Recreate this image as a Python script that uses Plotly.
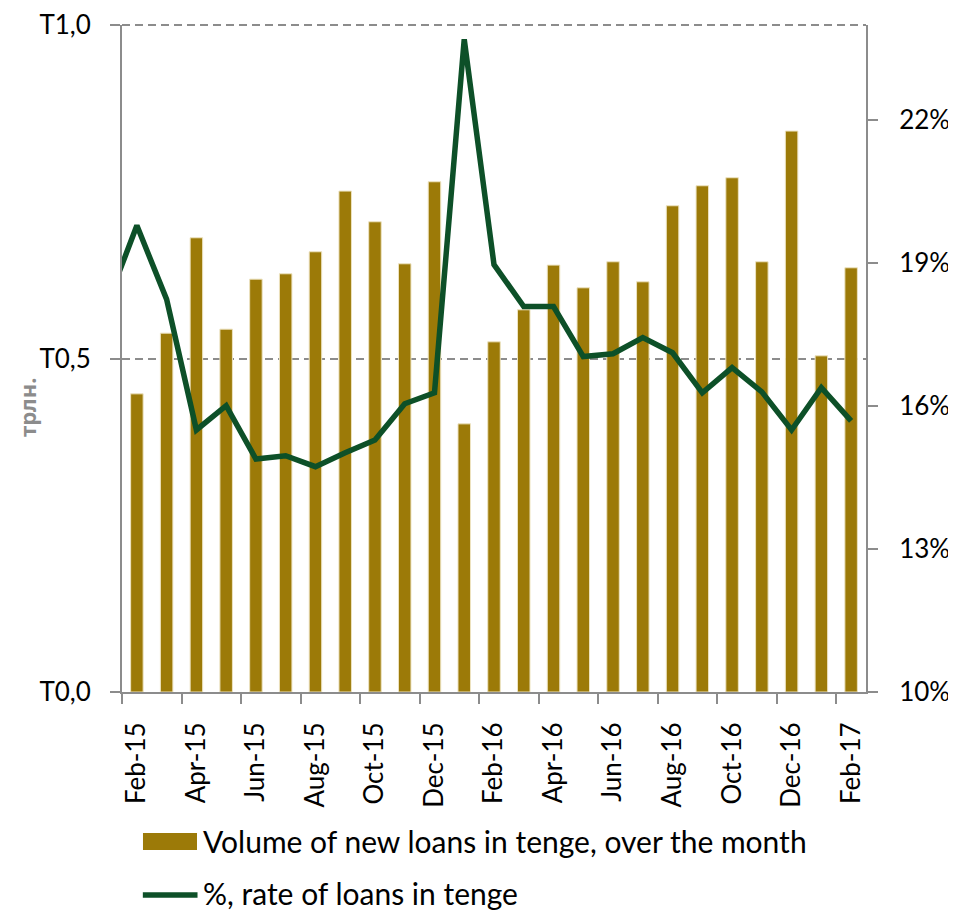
import plotly.graph_objects as go

months = ["Feb-15", "Mar-15", "Apr-15", "May-15", "Jun-15", "Jul-15", "Aug-15", "Sep-15",
          "Oct-15", "Nov-15", "Dec-15", "Jan-16", "Feb-16", "Mar-16", "Apr-16", "May-16",
          "Jun-16", "Jul-16", "Aug-16", "Sep-16", "Oct-16", "Nov-16", "Dec-16", "Jan-17", "Feb-17"]

volume = [0.447, 0.538, 0.681, 0.544, 0.619, 0.627, 0.660, 0.751, 0.705, 0.642, 0.765, 0.402,
          0.525, 0.573, 0.640, 0.606, 0.645, 0.615, 0.729, 0.759, 0.771, 0.645, 0.841, 0.504, 0.636]

# rate series starts one month earlier (Jan-15), which falls outside the plotted range
rate_months = ["Jan-15"] + months
rate = [18.15, 19.79, 18.24, 15.50, 16.01, 14.89, 14.96, 14.73, 15.02, 15.29, 16.05, 16.28, 23.70,
        18.97, 18.09, 18.09, 17.04, 17.10, 17.44, 17.12, 16.28, 16.81, 16.30, 15.50, 16.39, 15.69]

left_ticks = [0, 0.5, 1.0]
left_ticktext = ["T0,0", "T0,5", "T1,0"]
right_ticks = [10, 13, 16, 19, 22]

bar_name = "Volume of new loans in tenge, over the month"
line_name = "%, rate of loans in tenge"

x_bar = list(range(len(months)))
x_rate = [i - 1 for i in range(len(rate_months))]

FONT = "Lato"
BAR_COLOR = "#9C7A08"
LINE_COLOR = "#0D5028"
AXIS_COLOR = "#8C8C8C"
DASH = "8px,5px"

fig = go.Figure()
fig.add_trace(go.Bar(
    x=x_bar, y=volume, name=bar_name, showlegend=False,
    marker=dict(color=BAR_COLOR, line=dict(color="#EDE3C0", width=1)),
    width=0.42, yaxis="y"))
fig.add_trace(go.Scatter(
    x=x_rate, y=rate, name=line_name, mode="lines", showlegend=False,
    line=dict(color=LINE_COLOR, width=5.5), yaxis="y2"))

shapes = [
    # dashed gridline along the top of the plot (value 1.0)
    dict(type="line", xref="paper", yref="paper", x0=0, x1=1, y0=1, y1=1,
         line=dict(color=AXIS_COLOR, width=2, dash=DASH), layer="below"),
    # manual legend swatches below the plot
    dict(type="rect", xref="paper", yref="paper", x0=0.0282, x1=0.1008, y0=-0.2369, y1=-0.2114,
         fillcolor=BAR_COLOR, line=dict(width=0)),
    dict(type="line", xref="paper", yref="paper", x0=0.0280, x1=0.1015, y0=-0.3043, y1=-0.3043,
         line=dict(color=LINE_COLOR, width=5.5)),
]
annotations = [
    dict(text=bar_name, xref="paper", yref="paper", x=0.1065, y=-0.2234, xanchor="left",
         yanchor="middle", showarrow=False, font=dict(family=FONT, size=30, color="black")),
    dict(text=line_name, xref="paper", yref="paper", x=0.1065, y=-0.3010, xanchor="left",
         yanchor="middle", showarrow=False, font=dict(family=FONT, size=30, color="black")),
    dict(text="<b>трлн.</b>", textangle=-90, xref="paper", yref="paper",
         x=-0.128, y=0.427, xanchor="center", yanchor="middle", showarrow=False,
         font=dict(family="Noto Sans", size=22, color=AXIS_COLOR)),
]

# page body has an 8px default margin, so the figure is sized to fit the 956x911 window
fig.update_layout(
    width=948, height=903,
    margin=dict(l=114, r=90, t=17, b=219, autoexpand=False),
    paper_bgcolor="white", plot_bgcolor="white",
    font=dict(family=FONT, size=26, color="black"),
    showlegend=False,
    shapes=shapes, annotations=annotations,
    xaxis=dict(range=[-0.5, len(months) - 0.5], tickvals=x_bar[::2], ticktext=months[::2],
               tickangle=-90, ticks="", showgrid=False, zeroline=False, automargin=False,
               showline=True, linecolor=AXIS_COLOR, linewidth=2,
               ticklabelstandoff=18,
               minor=dict(ticks="outside", tick0=-0.5, dtick=2, ticklen=10,
                          tickcolor=AXIS_COLOR, tickwidth=2, showgrid=False)),
    yaxis=dict(range=[0, 1.0], tickvals=left_ticks, ticktext=left_ticktext, automargin=False,
               showgrid=True, gridcolor=AXIS_COLOR, gridwidth=2, griddash=DASH,
               zeroline=False, showline=True, linecolor=AXIS_COLOR, linewidth=2,
               ticks="outside", ticklen=10, tickcolor=AXIS_COLOR, tickwidth=2,
               ticklabelstandoff=14),
    yaxis2=dict(range=[10, 24], tickvals=right_ticks, ticktext=[f"{v}%" for v in right_ticks],
                overlaying="y", side="right", showgrid=False, zeroline=False, automargin=False,
                showline=True, linecolor=AXIS_COLOR, linewidth=2,
                ticks="outside", ticklen=10, tickcolor=AXIS_COLOR, tickwidth=2,
                ticklabelstandoff=16),
)

fig.write_html("out.html")
